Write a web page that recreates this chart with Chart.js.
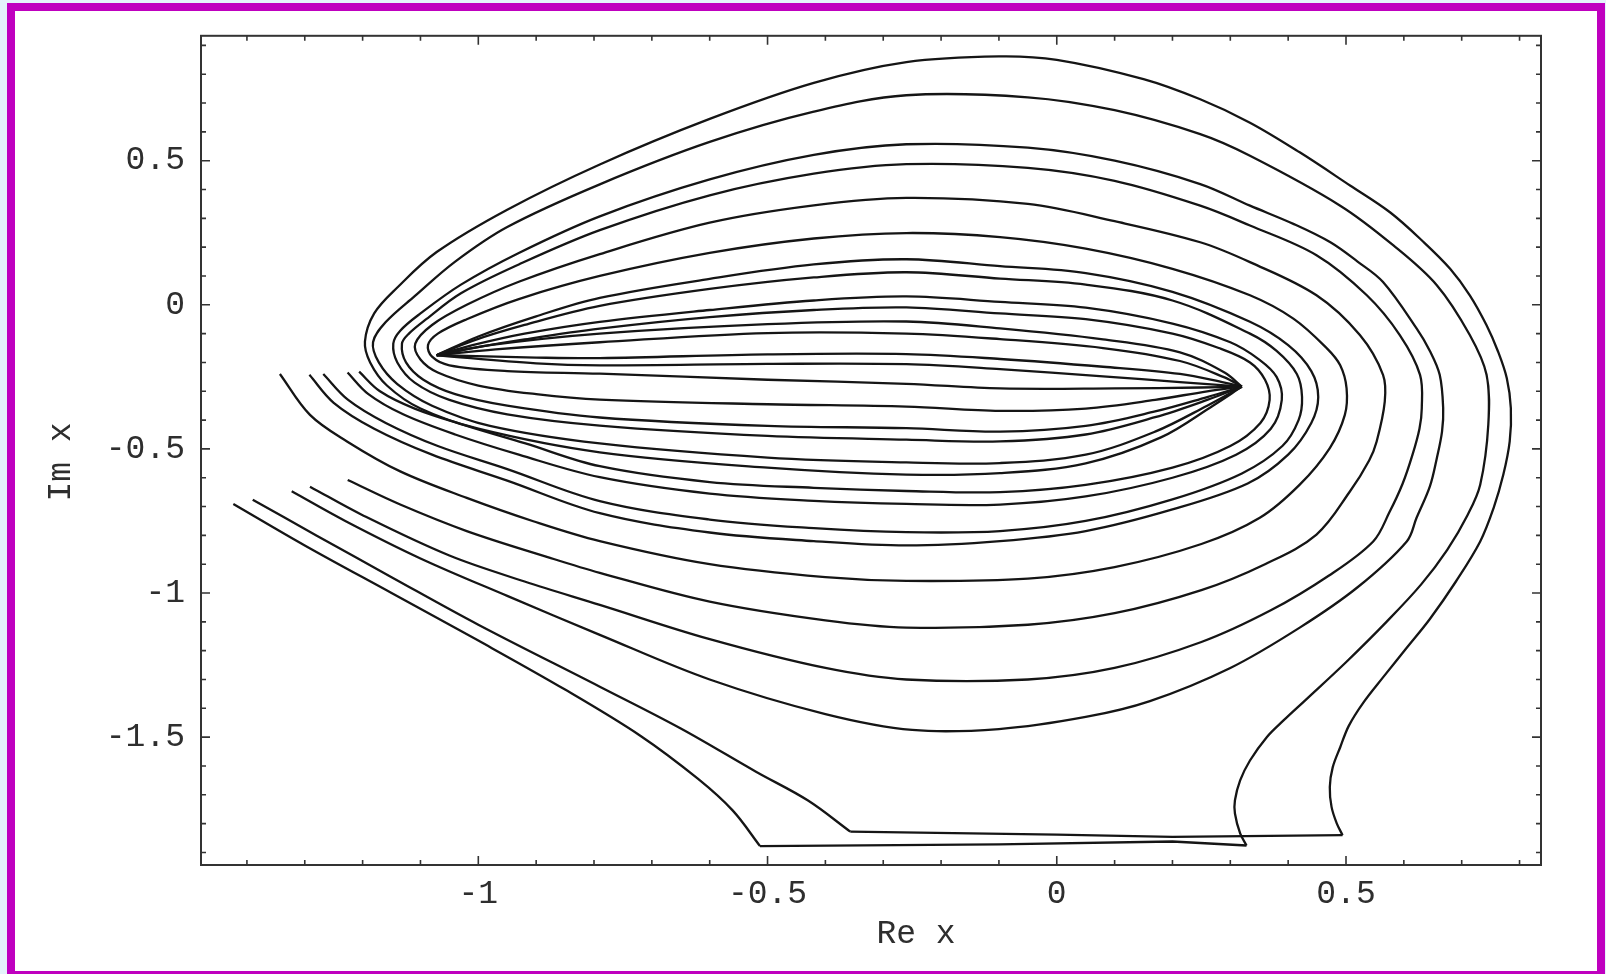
<!DOCTYPE html>
<html>
<head>
<meta charset="utf-8">
<script src="https://cdn.jsdelivr.net/npm/chart.js@4/dist/chart.umd.min.js"></script>
<style>
  html, body { margin: 0; padding: 0; width: 1606px; height: 974px; overflow: hidden; background: #e4f3fb; }
  #frame { position: absolute; left: 7px; top: 3px; width: 1582px; height: 960px; border: 8px solid #bf00bf; background: #fff; }
  #c { position: absolute; left: 0; top: 0; }
</style>
</head>
<body>
<div id="frame"></div>
<canvas id="c" width="1606" height="974"></canvas>
<script>
// axis ranges and ticks
const xRange = [-1.4794, 0.8371]
const yRange = [-1.9436, 0.9333]
const xTicks = [-1, -0.5, 0, 0.5]
const yTicks = [-1.5, -1, -0.5, 0, 0.5]

// the two outermost trajectories (split at their sharp corners)
const c1Diag = [[-1.4235,-0.691],[-1.30,-0.835],[-1.15,-1.0],[-1.00,-1.165],[-0.85,-1.335],[-0.72,-1.495],[-0.62,-1.645],[-0.56,-1.755],[-0.513,-1.878]]
const c1Base = [[-0.513,-1.878],[-0.10,-1.872],[0.20,-1.862],[0.328,-1.876]]
const c1Loop = [[0.328,-1.876],[0.317,-1.834],[0.308,-1.765],[0.308,-1.719],[0.317,-1.650],[0.334,-1.581],[0.363,-1.500],[0.392,-1.442],[0.429,-1.373],[0.50,-1.24],[0.57,-1.10],[0.63,-0.97],[0.675,-0.85],[0.71,-0.73],[0.732,-0.624],[0.746,-0.416],[0.743,-0.243],[0.714,-0.105],[0.657,0.068],[0.582,0.206],[0.490,0.344],[0.334,0.517],[0.248,0.592],[0.10,0.675],[-0.05,0.72],[-0.26,0.727],[-0.42,0.67],[-0.60,0.565],[-0.79,0.418],[-0.95,0.27],[-1.04,0.15],[-1.11,0.03],[-1.16,-0.06],[-1.182,-0.13],[-1.172,-0.20],[-1.14,-0.275],[-1.08,-0.35],[-0.98,-0.42],[-0.79,-0.481],[-0.50,-0.53],[-0.26,-0.547],[-0.098,-0.549],[0.05,-0.52],[0.17,-0.44],[0.26,-0.35],[0.32,-0.284]]

const c2Diag = [[-1.390,-0.676],[-1.28,-0.80],[-1.15,-0.945],[-1.00,-1.11],[-0.79,-1.325],[-0.65,-1.47],[-0.52,-1.62],[-0.43,-1.72],[-0.357,-1.828]]
const c2Base = [[-0.357,-1.828],[0.00,-1.838],[0.20,-1.846],[0.494,-1.840]]
const c2Loop = [[0.494,-1.840],[0.484,-1.799],[0.475,-1.742],[0.472,-1.673],[0.477,-1.605],[0.490,-1.535],[0.505,-1.46],[0.53,-1.38],[0.565,-1.29],[0.605,-1.19],[0.645,-1.09],[0.69,-0.96],[0.732,-0.821],[0.755,-0.706],[0.772,-0.589],[0.783,-0.474],[0.785,-0.359],[0.778,-0.255],[0.763,-0.163],[0.743,-0.071],[0.714,0.033],[0.680,0.125],[0.634,0.218],[0.576,0.321],[0.507,0.414],[0.420,0.529],[0.334,0.632],[0.248,0.713],[0.15,0.783],[0.00,0.85],[-0.10,0.862],[-0.26,0.842],[-0.42,0.77],[-0.60,0.645],[-0.79,0.487],[-0.95,0.33],[-1.072,0.183],[-1.14,0.06],[-1.18,-0.03],[-1.196,-0.128],[-1.187,-0.20],[-1.158,-0.28],[-1.10,-0.36],[-1.00,-0.43],[-0.79,-0.512],[-0.50,-0.565],[-0.26,-0.589],[-0.098,-0.584],[0.05,-0.55],[0.18,-0.46],[0.27,-0.35],[0.32,-0.284]]

// trajectories that wrap the left focus and end in the right focus
const c3 = [[-1.3226,-0.647],[-1.23,-0.75],[-1.10,-0.88],[-0.95,-1.01],[-0.79,-1.145],[-0.60,-1.30],[-0.40,-1.42],[-0.25,-1.475],[-0.10,-1.472],[0.05,-1.43],[0.161,-1.375],[0.30,-1.26],[0.42,-1.12],[0.52,-0.98],[0.605,-0.821],[0.622,-0.739],[0.645,-0.63],[0.657,-0.532],[0.666,-0.44],[0.668,-0.359],[0.662,-0.243],[0.645,-0.16],[0.622,-0.082],[0.564,0.079],[0.520,0.15],[0.473,0.217],[0.41,0.28],[0.334,0.344],[0.248,0.419],[0.10,0.50],[-0.05,0.545],[-0.26,0.557],[-0.42,0.52],[-0.60,0.435],[-0.79,0.307],[-0.93,0.18],[-1.03,0.07],[-1.10,-0.03],[-1.135,-0.09],[-1.147,-0.135],[-1.14,-0.20],[-1.11,-0.27],[-1.05,-0.33],[-0.95,-0.38],[-0.79,-0.419],[-0.50,-0.455],[-0.26,-0.468],[-0.098,-0.474],[0.05,-0.45],[0.17,-0.39],[0.26,-0.33],[0.32,-0.284]]
const c4 = [[-1.291,-0.631],[-1.20,-0.73],[-1.05,-0.87],[-0.92,-0.96],[-0.79,-1.041],[-0.60,-1.16],[-0.40,-1.26],[-0.26,-1.30],[-0.05,-1.30],[0.10,-1.26],[0.25,-1.17],[0.37,-1.06],[0.47,-0.94],[0.547,-0.821],[0.575,-0.72],[0.598,-0.62],[0.615,-0.52],[0.627,-0.43],[0.631,-0.359],[0.628,-0.243],[0.593,-0.105],[0.536,0.033],[0.449,0.172],[0.334,0.275],[0.248,0.344],[0.10,0.43],[-0.05,0.475],[-0.26,0.488],[-0.42,0.455],[-0.60,0.38],[-0.79,0.259],[-0.93,0.14],[-1.03,0.04],[-1.09,-0.05],[-1.12,-0.10],[-1.132,-0.135],[-1.125,-0.20],[-1.095,-0.26],[-1.04,-0.31],[-0.95,-0.35],[-0.79,-0.391],[-0.50,-0.42],[-0.26,-0.428],[-0.098,-0.440],[0.05,-0.42],[0.17,-0.37],[0.26,-0.32],[0.32,-0.284]]
const c5 = [[-1.2258,-0.608],[-1.135,-0.693],[-1.020,-0.785],[-0.876,-0.878],[-0.79,-0.93],[-0.60,-1.03],[-0.40,-1.095],[-0.26,-1.12],[-0.05,-1.11],[0.10,-1.07],[0.25,-0.99],[0.36,-0.90],[0.449,-0.797],[0.507,-0.647],[0.540,-0.54],[0.553,-0.474],[0.567,-0.336],[0.564,-0.243],[0.524,-0.105],[0.449,0.033],[0.334,0.148],[0.248,0.217],[0.10,0.29],[-0.05,0.35],[-0.26,0.371],[-0.42,0.345],[-0.60,0.285],[-0.79,0.176],[-0.93,0.08],[-1.02,0.0],[-1.08,-0.07],[-1.109,-0.135],[-1.10,-0.19],[-1.07,-0.235],[-1.00,-0.28],[-0.90,-0.31],[-0.79,-0.329],[-0.50,-0.345],[-0.26,-0.353],[-0.098,-0.368],[0.05,-0.36],[0.17,-0.33],[0.26,-0.30],[0.32,-0.284]]
const c6 = [[-1.343,-0.240],[-1.291,-0.382],[-1.227,-0.474],[-1.135,-0.578],[-1.020,-0.670],[-0.905,-0.751],[-0.79,-0.820],[-0.60,-0.90],[-0.40,-0.945],[-0.26,-0.958],[-0.05,-0.95],[0.10,-0.91],[0.25,-0.83],[0.351,-0.739],[0.420,-0.624],[0.472,-0.497],[0.498,-0.382],[0.501,-0.290],[0.490,-0.21],[0.467,-0.151],[0.409,-0.048],[0.334,0.033],[0.20,0.125],[0.05,0.195],[-0.098,0.235],[-0.26,0.249],[-0.42,0.23],[-0.60,0.18],[-0.79,0.100],[-0.93,0.02],[-1.02,-0.05],[-1.07,-0.10],[-1.087,-0.14],[-1.08,-0.18],[-1.05,-0.21],[-0.95,-0.23],[-0.79,-0.239],[-0.50,-0.26],[-0.26,-0.274],[-0.098,-0.290],[0.10,-0.29],[0.25,-0.287],[0.32,-0.284]]

// trajectories that wrap the right focus and end in the left focus
const c7 = [[-1.292,-0.243],[-1.25,-0.34],[-1.18,-0.43],[-1.08,-0.52],[-0.95,-0.61],[-0.79,-0.723],[-0.60,-0.79],[-0.42,-0.82],[-0.26,-0.835],[-0.098,-0.820],[0.05,-0.785],[0.20,-0.71],[0.33,-0.62],[0.40,-0.52],[0.44,-0.41],[0.452,-0.32],[0.44,-0.23],[0.40,-0.14],[0.334,-0.059],[0.20,0.045],[0.05,0.11],[-0.098,0.134],[-0.26,0.158],[-0.42,0.14],[-0.60,0.09],[-0.79,0.024],[-0.90,-0.04],[-1.00,-0.11],[-1.072,-0.175]]
const c8 = [[-1.268,-0.240],[-1.225,-0.33],[-1.16,-0.41],[-1.07,-0.49],[-0.95,-0.57],[-0.79,-0.681],[-0.60,-0.745],[-0.42,-0.775],[-0.26,-0.789],[-0.098,-0.785],[0.05,-0.75],[0.20,-0.675],[0.32,-0.585],[0.39,-0.49],[0.418,-0.40],[0.424,-0.32],[0.415,-0.24],[0.38,-0.16],[0.334,-0.10],[0.20,0.015],[0.05,0.07],[-0.098,0.091],[-0.26,0.113],[-0.42,0.095],[-0.60,0.055],[-0.79,-0.004],[-0.92,-0.07],[-1.01,-0.125],[-1.072,-0.175]]
const c9 = [[-1.226,-0.235],[-1.19,-0.31],[-1.13,-0.38],[-1.04,-0.45],[-0.93,-0.52],[-0.79,-0.598],[-0.60,-0.655],[-0.42,-0.68],[-0.26,-0.691],[-0.098,-0.693],[0.05,-0.665],[0.20,-0.60],[0.31,-0.52],[0.37,-0.43],[0.389,-0.33],[0.38,-0.25],[0.35,-0.19],[0.30,-0.13],[0.20,-0.065],[0.05,-0.01],[-0.098,0.010],[-0.26,0.029],[-0.42,0.015],[-0.60,-0.018],[-0.79,-0.059],[-0.92,-0.10],[-1.01,-0.14],[-1.072,-0.175]]
const c10 = [[-1.206,-0.232],[-1.17,-0.30],[-1.11,-0.36],[-1.02,-0.42],[-0.92,-0.48],[-0.79,-0.560],[-0.60,-0.615],[-0.42,-0.635],[-0.26,-0.646],[-0.098,-0.650],[0.05,-0.625],[0.20,-0.565],[0.30,-0.49],[0.352,-0.41],[0.368,-0.33],[0.36,-0.26],[0.334,-0.20],[0.28,-0.15],[0.20,-0.10],[0.05,-0.05],[-0.098,-0.030],[-0.26,-0.009],[-0.42,-0.018],[-0.60,-0.043],[-0.79,-0.083],[-0.92,-0.12],[-1.01,-0.15],[-1.072,-0.175]]

// lens between the two foci
const lens1 = [[-1.072,-0.175],[-0.98,-0.14],[-0.79,-0.10],[-0.50,-0.067],[-0.26,-0.058],[-0.098,-0.082],[0.08,-0.12],[0.213,-0.165],[0.29,-0.235],[0.32,-0.284]]
const lens2 = [[-1.072,-0.175],[-0.97,-0.155],[-0.79,-0.13],[-0.50,-0.098],[-0.26,-0.100],[-0.098,-0.119],[0.08,-0.15],[0.213,-0.195],[0.29,-0.252],[0.32,-0.284]]
const lens3 = [[-1.072,-0.175],[-0.90,-0.183],[-0.79,-0.185],[-0.50,-0.172],[-0.26,-0.171],[-0.098,-0.188],[0.08,-0.215],[0.213,-0.24],[0.29,-0.27],[0.32,-0.284]]
const lens4 = [[-1.072,-0.175],[-0.90,-0.203],[-0.79,-0.21],[-0.50,-0.205],[-0.26,-0.206],[-0.098,-0.223],[0.08,-0.248],[0.213,-0.268],[0.32,-0.284]]

const curves = [c1Diag, c1Base, c1Loop, c2Diag, c2Base, c2Loop, c3, c4, c5, c6, c7, c8, c9, c10, lens1, lens2, lens3, lens4]

const FONT = "'Liberation Mono', 'DejaVu Sans Mono', monospace"
const INK = '#2e2e2e'

// inward ticks on all four sides, box frame and axis titles
const framePlugin = {
  id: 'frame',
  afterDatasetsDraw(chart) {
    const { ctx, chartArea: a, scales: { x, y } } = chart
    ctx.save()
    ctx.strokeStyle = '#333'
    ctx.lineWidth = 2
    ctx.strokeRect(a.left, a.top, a.right - a.left, a.bottom - a.top)

    ctx.lineWidth = 1.6
    ctx.beginPath()
    for (let i = Math.ceil(xRange[0] * 10); i <= Math.floor(xRange[1] * 10); i++) {
      const px = x.getPixelForValue(i / 10)
      const len = i % 5 === 0 ? 9 : 5
      ctx.moveTo(px, a.bottom); ctx.lineTo(px, a.bottom - len)
      ctx.moveTo(px, a.top); ctx.lineTo(px, a.top + len)
    }
    for (let i = Math.ceil(yRange[0] * 10); i <= Math.floor(yRange[1] * 10); i++) {
      const py = y.getPixelForValue(i / 10)
      const len = i % 5 === 0 ? 9 : 5
      ctx.moveTo(a.left, py); ctx.lineTo(a.left + len, py)
      ctx.moveTo(a.right, py); ctx.lineTo(a.right - len, py)
    }
    ctx.stroke()

    ctx.fillStyle = INK
    ctx.font = '33px ' + FONT
    ctx.textAlign = 'center'
    ctx.textBaseline = 'middle'
    ctx.fillText('Re x', 916, 934)
    ctx.translate(61, 462)
    ctx.rotate(-Math.PI / 2)
    ctx.fillText('Im x', 0, 0)
    ctx.restore()
  }
}

new Chart(document.getElementById('c'), {
  type: 'scatter',
  data: {
    datasets: curves.map(pts => ({
      data: pts.map(([px, py]) => ({ x: px, y: py })),
      showLine: true,
      pointRadius: 0,
      borderColor: '#151515',
      borderWidth: 2.3,
      fill: false,
      tension: pts.length > 4 ? 0.35 : 0,
    })),
  },
  options: {
    responsive: false,
    devicePixelRatio: 1,
    animation: false,
    layout: { padding: { left: 0, top: 33, right: 65, bottom: 0 } },
    plugins: { legend: { display: false }, tooltip: { enabled: false } },
    scales: {
      x: {
        type: 'linear',
        min: xRange[0],
        max: xRange[1],
        afterBuildTicks: s => { s.ticks = xTicks.map(v => ({ value: v })) },
        afterFit: s => { s.height = 109 },
        grid: { display: false, drawTicks: false },
        border: { display: false },
        ticks: { padding: 9, color: INK, font: { family: FONT, size: 33 }, maxRotation: 0, autoSkip: false, callback: v => String(v) },
      },
      y: {
        type: 'linear',
        min: yRange[0],
        max: yRange[1],
        afterBuildTicks: s => { s.ticks = yTicks.map(v => ({ value: v })) },
        afterFit: s => { s.width = 201 },
        grid: { display: false, drawTicks: false },
        border: { display: false },
        ticks: { padding: 16, color: INK, font: { family: FONT, size: 33 }, autoSkip: false, callback: v => String(v) },
      },
    },
  },
  plugins: [framePlugin],
})
</script>
</body>
</html>
